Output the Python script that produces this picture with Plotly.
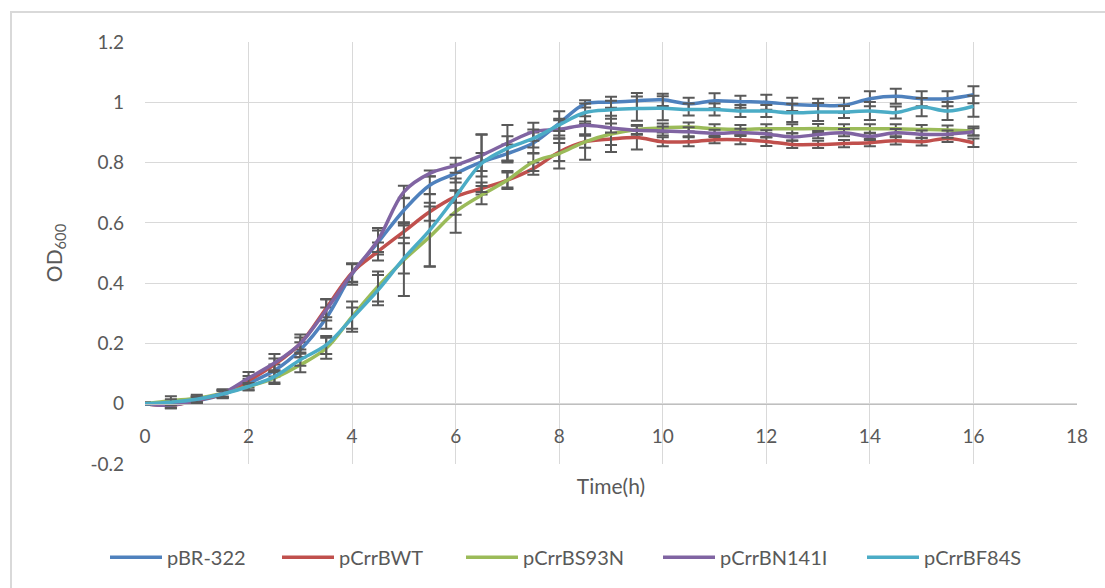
import plotly.graph_objects as go

time_h = [i * 0.5 for i in range(33)]

series_names = ["pBR-322", "pCrrBWT", "pCrrBS93N", "pCrrBN141I", "pCrrBF84S"]

pBR322 = [0, -0.003, 0.01, 0.03, 0.068, 0.11, 0.179, 0.284, 0.43, 0.535, 0.642, 0.725, 0.764,
          0.802, 0.83, 0.865, 0.93, 0.995, 1.0, 1.005, 1.008, 0.995, 1.005, 1.002, 1.0, 0.993,
          0.99, 0.99, 1.012, 1.02, 1.012, 1.012, 1.025]
pBR322_err = [0.003, 0.01, 0.01, 0.012, 0.015, 0.02, 0.025, 0.035, 0.035, 0.04, 0.04, 0.03, 0.03,
              0.03, 0.03, 0.035, 0.04, 0.012, 0.018, 0.026, 0.02, 0.02, 0.025, 0.02, 0.025, 0.022,
              0.022, 0.025, 0.025, 0.025, 0.025, 0.025, 0.028]

pCrrBWT = [0, -0.005, 0.012, 0.033, 0.077, 0.13, 0.2, 0.317, 0.435, 0.505, 0.571, 0.637, 0.687,
           0.714, 0.742, 0.78, 0.835, 0.869, 0.878, 0.883, 0.869, 0.869, 0.876, 0.876, 0.87, 0.86,
           0.86, 0.863, 0.866, 0.872, 0.869, 0.88, 0.866]
pCrrBWT_err = [0.003, 0.01, 0.012, 0.012, 0.015, 0.02, 0.02, 0.03, 0.03, 0.03, 0.02, 0.03, 0.02,
               0.02, 0.025, 0.02, 0.03, 0.02, 0.02, 0.04, 0.015, 0.015, 0.012, 0.015, 0.015, 0.012,
               0.012, 0.012, 0.012, 0.012, 0.012, 0.012, 0.014]

pCrrBS93N = [0, 0.01, 0.018, 0.035, 0.057, 0.085, 0.129, 0.184, 0.289, 0.389, 0.477, 0.554, 0.637,
             0.692, 0.742, 0.802, 0.83, 0.869, 0.895, 0.91, 0.915, 0.918, 0.912, 0.91, 0.912, 0.912,
             0.913, 0.912, 0.912, 0.912, 0.91, 0.908, 0.905]
pCrrBS93N_err = [0.003, 0.015, 0.012, 0.012, 0.012, 0.02, 0.025, 0.035, 0.05, 0.05, 0.12, 0.1, 0.07,
                 0.03, 0.03, 0.03, 0.05, 0.06, 0.06, 0.015, 0.015, 0.015, 0.015, 0.015, 0.015, 0.015,
                 0.015, 0.015, 0.015, 0.015, 0.015, 0.015, 0.015]

pCrrBN141I = [0, -0.005, 0.012, 0.035, 0.085, 0.135, 0.2, 0.311, 0.433, 0.543, 0.703, 0.764, 0.791,
              0.824, 0.865, 0.902, 0.91, 0.924, 0.915, 0.907, 0.905, 0.902, 0.897, 0.9, 0.895, 0.885,
              0.893, 0.899, 0.887, 0.899, 0.894, 0.894, 0.902]
pCrrBN141I_err = [0.003, 0.01, 0.01, 0.012, 0.02, 0.03, 0.03, 0.035, 0.03, 0.04, 0.02, 0.01, 0.025,
                  0.07, 0.06, 0.03, 0.03, 0.03, 0.015, 0.015, 0.015, 0.015, 0.012, 0.012, 0.012,
                  0.012, 0.012, 0.012, 0.012, 0.012, 0.012, 0.012, 0.012]

pCrrBF84S = [0, 0.005, 0.015, 0.032, 0.057, 0.09, 0.146, 0.195, 0.284, 0.377, 0.482, 0.576, 0.687,
             0.797, 0.847, 0.88, 0.925, 0.966, 0.975, 0.979, 0.98, 0.976, 0.976, 0.971, 0.971, 0.965,
             0.968, 0.968, 0.971, 0.966, 0.984, 0.971, 0.987]
pCrrBF84S_err = [0.003, 0.01, 0.01, 0.012, 0.012, 0.02, 0.02, 0.03, 0.035, 0.05, 0.05, 0.12, 0.06,
                 0.095, 0.04, 0.03, 0.02, 0.03, 0.03, 0.04, 0.04, 0.02, 0.02, 0.02, 0.02, 0.03, 0.03,
                 0.02, 0.03, 0.02, 0.03, 0.03, 0.035]

values = [pBR322, pCrrBWT, pCrrBS93N, pCrrBN141I, pCrrBF84S]
errors = [pBR322_err, pCrrBWT_err, pCrrBS93N_err, pCrrBN141I_err, pCrrBF84S_err]
colors = ["#4F81BD", "#C0504D", "#9BBB59", "#8064A2", "#4BACC6"]
legend_widths = [105, 117, 130, 137, 110]

x_ticks = list(range(0, 19, 2))
y_ticks = [-0.2, 0, 0.2, 0.4, 0.6, 0.8, 1.0, 1.2]
y_tick_text = ["-0.2", "0", "0.2", "0.4", "0.6", "0.8", "1", "1.2"]

FONT = "Lato, 'Open Sans', sans-serif"
TXT = "#595959"

fig = go.Figure()
for name, v, e, c, lw in zip(series_names, values, errors, colors, legend_widths):
    fig.add_trace(go.Scatter(
        x=time_h, y=v, name=name, mode="lines", legendwidth=lw,
        line=dict(color=c, width=3.5, shape="spline", smoothing=1.0),
        error_y=dict(type="data", array=e, visible=True, color="#595959",
                     thickness=2, width=6),
    ))

fig.update_layout(
    width=1105, height=588,
    margin=dict(l=145, r=28, t=42, b=123),
    paper_bgcolor="white", plot_bgcolor="white",
    font=dict(family=FONT, color=TXT, size=20),
    showlegend=True,
    legend=dict(orientation="h", x=(105 - 145) / 932, xanchor="left", y=-0.218, yanchor="middle",
                font=dict(size=20, color=TXT), itemwidth=52, traceorder="normal"),
    xaxis=dict(range=[0, 18], tickvals=x_ticks, showgrid=True, gridcolor="#D9D9D9", gridwidth=1,
               anchor="free", position=0.2 / 1.4, showline=True, linecolor="#BFBFBF", linewidth=1,
               zeroline=False, ticks="", ticklabelstandoff=15, tickfont=dict(size=19, color=TXT),
               title=dict(text="Time(h)", font=dict(size=21, color=TXT), standoff=33)),
    yaxis=dict(range=[-0.2, 1.2], tickvals=y_ticks, ticktext=y_tick_text, showgrid=True,
               gridcolor="#D9D9D9", gridwidth=1, zeroline=False, showline=False, ticks="",
               ticklabelstandoff=20, tickfont=dict(size=19, color=TXT),
               title=dict(text="OD<sub>600</sub>", font=dict(size=21, color=TXT), standoff=22)),
)

# outer chart border (light gray)
fig.add_shape(type="rect", xref="paper", yref="paper",
              x0=(11 - 145) / 932, x1=1.2, y0=-0.5, y1=1 + (42 - 12) / 423,
              line=dict(color="#D9D9D9", width=2), fillcolor="rgba(0,0,0,0)", layer="below")

fig.write_html("out.html")
